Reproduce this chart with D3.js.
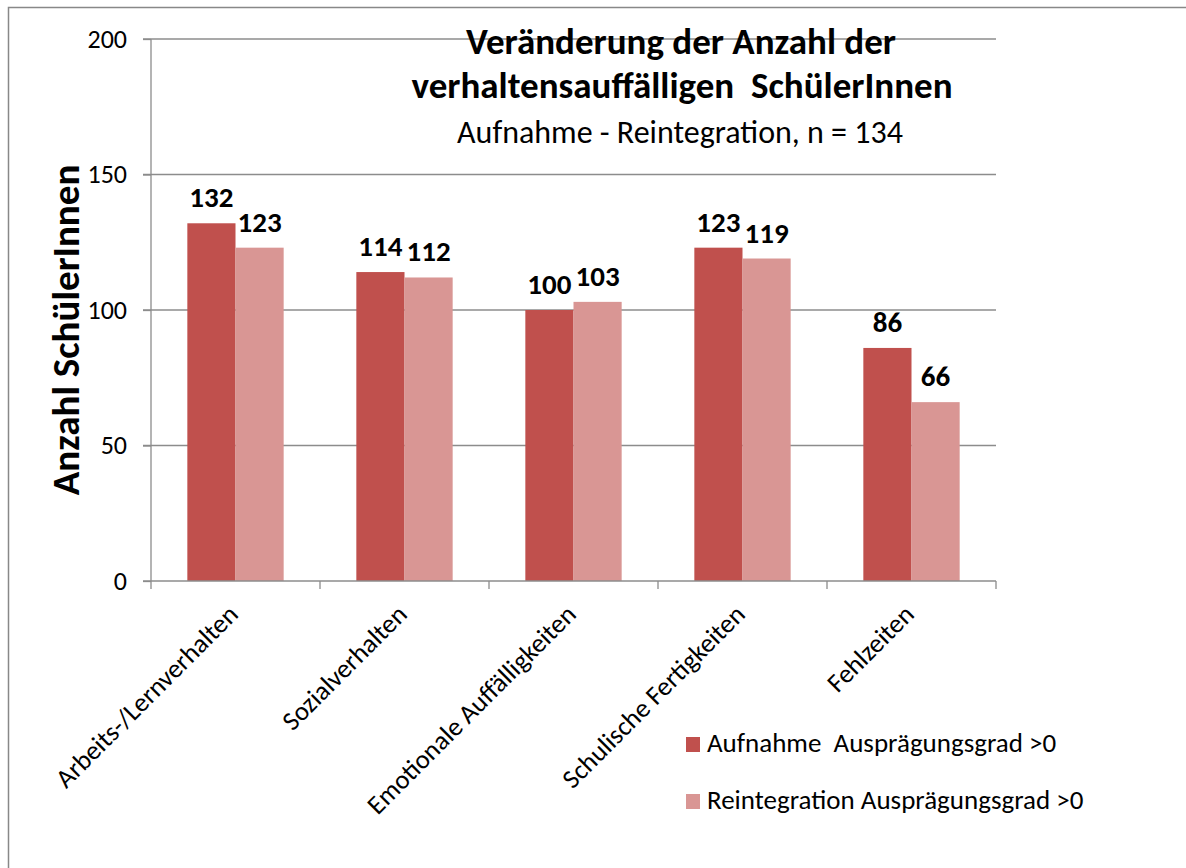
<!DOCTYPE html>
<html lang="de">
<head>
  <meta charset="utf-8">
  <title>Verhaltensauffällige SchülerInnen</title>
  <script src="https://d3js.org/d3.v7.min.js"></script>
  <style>
    body { margin: 0; background: #fff; }
    text { font-family: Carlito, Calibri, "Open Sans", "Noto Sans", sans-serif; fill: #000; white-space: pre; }
  </style>
</head>
<body>
<svg width="1186" height="868"></svg>
<script>
  // Data
  const categories = ["Arbeits-/Lernverhalten", "Sozialverhalten", "Emotionale Auffälligkeiten", "Schulische Fertigkeiten", "Fehlzeiten"];
  const seriesNames = ["Aufnahme  Ausprägungsgrad >0", "Reintegration Ausprägungsgrad >0"];
  const aufnahme = [132, 114, 100, 123, 86];
  const reintegration = [123, 112, 103, 119, 66];
  const yTicks = [0, 50, 100, 150, 200];
  const colors = ["#C0504D", "#D99694"];

  const svg = d3.select("svg");

  // Outer border (chart area is cropped at right/bottom)
  svg.append("rect")
    .attr("x", 8.5).attr("y", 7.5)
    .attr("width", 1200).attr("height", 900)
    .attr("fill", "none").attr("stroke", "#888").attr("stroke-width", 1.5);

  const plotLeft = 151, plotRight = 996, plotTop = 39, plotBottom = 581;

  const x0 = d3.scaleBand()
    .domain(categories)
    .range([plotLeft, plotRight])
    .paddingInner(0.43)
    .paddingOuter(0.215);

  const x1 = d3.scaleBand()
    .domain([0, 1])
    .range([0, x0.bandwidth()]);

  const y = d3.scaleLinear().domain([0, 200]).range([plotBottom, plotTop]);

  // Gridlines
  svg.append("g")
    .selectAll("line")
    .data(yTicks.filter(d => d > 0))
    .join("line")
    .attr("x1", plotLeft - 8).attr("x2", plotRight)
    .attr("y1", d => y(d)).attr("y2", d => y(d))
    .attr("stroke", "#8c8c8c").attr("stroke-width", 1.3);

  // Bars
  const rows = categories.map((c, i) => ({ c, vals: [aufnahme[i], reintegration[i]] }));
  const groups = svg.append("g")
    .selectAll("g")
    .data(rows)
    .join("g")
    .attr("transform", d => `translate(${x0(d.c)},0)`);

  groups.selectAll("rect")
    .data(d => d.vals.map((v, k) => ({ v, k })))
    .join("rect")
    .attr("x", d => x1(d.k))
    .attr("width", x1.bandwidth())
    .attr("y", d => y(d.v))
    .attr("height", d => y(0) - y(d.v))
    .attr("fill", d => colors[d.k]);

  groups.selectAll("text")
    .data(d => d.vals.map((v, k) => ({ v, k })))
    .join("text")
    .attr("x", d => x1(d.k) + x1.bandwidth() / 2)
    .attr("y", d => y(d.v) - 16)
    .attr("text-anchor", "middle")
    .style("font-size", "29px")
    .attr("font-weight", "bold")
    .text(d => d.v);

  // Y axis
  const yAxis = d3.axisLeft(y).tickValues(yTicks).tickSize(8).tickPadding(16);
  const gy = svg.append("g").attr("transform", `translate(${plotLeft},0)`).call(yAxis);
  gy.select(".domain").attr("stroke", "#8c8c8c").attr("stroke-width", 1.3).attr("d", `M0,${plotTop}V${plotBottom}`);
  gy.selectAll(".tick line").attr("stroke", "#8c8c8c").attr("stroke-width", 1.3);
  gy.selectAll(".tick text").style("font-size", "26px").attr("fill", "#000");

  // X axis
  const xAxis = d3.axisBottom(x0).tickSize(0).tickFormat("");
  const gx = svg.append("g").attr("transform", `translate(0,${plotBottom})`).call(xAxis);
  gx.select(".domain").attr("stroke", "#8c8c8c").attr("stroke-width", 1.3).attr("d", `M${plotLeft - 8},0H${plotRight}`);

  // Category boundary ticks
  const step = x0.step();
  const bounds = d3.range(categories.length + 1).map(i => plotLeft + i * step);
  svg.append("g")
    .selectAll("line")
    .data(bounds)
    .join("line")
    .attr("x1", d => d).attr("x2", d => d)
    .attr("y1", plotBottom).attr("y2", plotBottom + 8)
    .attr("stroke", "#8c8c8c").attr("stroke-width", 1.3);

  // Category labels
  svg.append("g")
    .selectAll("text")
    .data(categories)
    .join("text")
    .attr("transform", d => `translate(${x0(d) + x0.bandwidth() / 2 + 4},${plotBottom + 35}) rotate(-45)`)
    .attr("text-anchor", "end")
    .style("font-size", "26.5px")
    .text(d => d);

  // Y axis title
  svg.append("text")
    .attr("transform", `translate(79,330) rotate(-90)`)
    .attr("text-anchor", "middle")
    .style("font-size", "39px")
    .attr("font-weight", "bold")
    .text("Anzahl SchülerInnen");

  // Title
  const title = svg.append("text").attr("text-anchor", "middle").attr("font-weight", "bold").style("font-size", "37px");
  title.append("tspan").attr("x", 681).attr("y", 54).text("Veränderung der Anzahl der");
  title.append("tspan").attr("x", 682).attr("y", 98).text("verhaltensauffälligen  SchülerInnen");
  svg.append("text")
    .attr("x", 680).attr("y", 143)
    .attr("text-anchor", "middle")
    .style("font-size", "32px")
    .text("Aufnahme - Reintegration, n = 134");

  // Legend
  const legend = svg.append("g")
    .selectAll("g")
    .data(seriesNames)
    .join("g")
    .attr("transform", (d, i) => `translate(686,${737 + i * 57})`);
  legend.append("rect").attr("width", 14).attr("height", 15).attr("fill", (d, i) => colors[i]);
  legend.append("text").attr("x", 21).attr("y", 15).style("font-size", "27px").text(d => d);
</script>
</body>
</html>
